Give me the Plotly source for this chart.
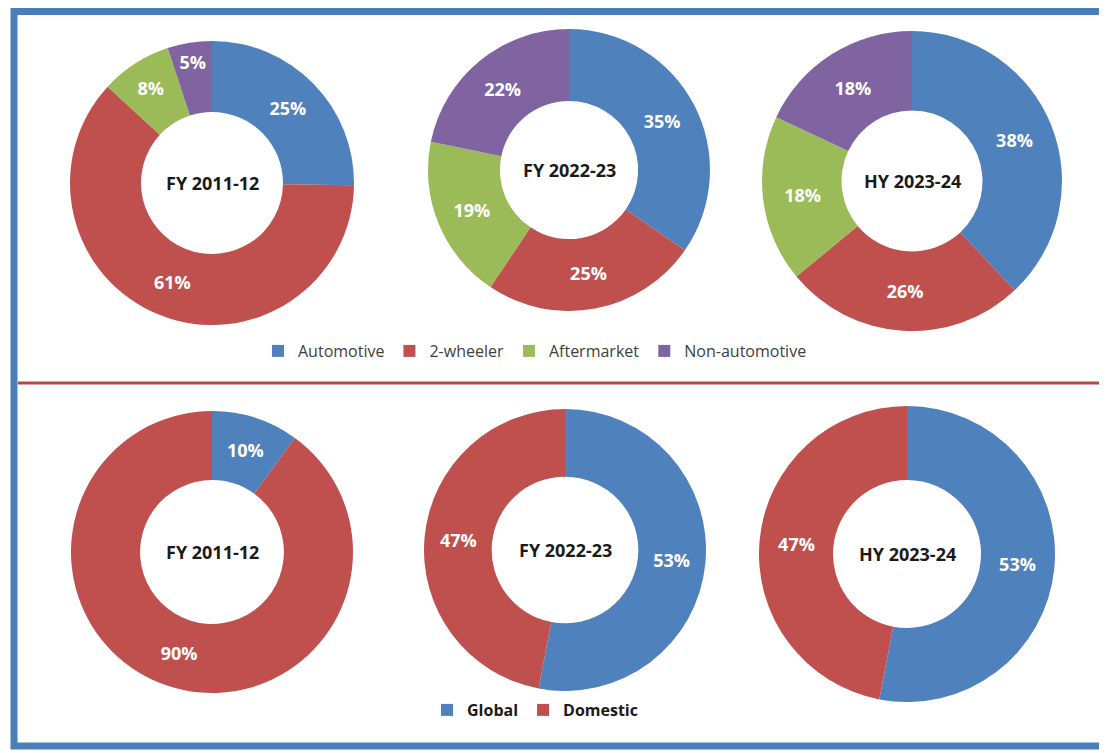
import plotly.graph_objects as go

W, H = 1107, 753
OFF = 8  # page body margin
FW, FH = W + 20, H - OFF

seg_labels = ["Automotive", "2-wheeler", "Aftermarket", "Non-automotive"]
seg_fy12 = [25, 61, 8, 5]
seg_fy23 = [35, 25, 19, 22]
seg_hy24 = [38, 26, 18, 18]

geo_labels = ["Global", "Domestic"]
geo_fy12 = [10, 90]
geo_fy23 = [53, 47]
geo_hy24 = [53, 47]

period_titles = ["FY 2011-12", "FY 2022-23", "HY 2023-24"]

seg_colors = ["#4F81BD", "#C0504D", "#9BBB59", "#8064A2"]
geo_colors = ["#4F81BD", "#C0504D"]

# (cx, cy, r, hole) in page pixels
top_geom = [(212, 183, 142, 0.50), (569, 170, 141, 0.49), (912, 181, 150, 0.47)]
bot_geom = [(212, 552, 141, 0.51), (565, 550, 141, 0.52), (907, 554, 148, 0.50)]


def fx(px):
    return (px - OFF) / FW


def fy(py):
    return 1 - (py - OFF) / FH


def domain(cx, cy, r):
    return dict(x=[fx(cx - r), fx(cx + r)], y=[fy(cy + r), fy(cy - r)])


fig = go.Figure()
annotations = []

label_font = dict(color="white", size=18, family="Open Sans", weight="bold")
center_font = dict(size=18, color="#1a1a1a", family="Open Sans", weight="bold")

for i, vals in enumerate([seg_fy12, seg_fy23, seg_hy24]):
    cx, cy, r, hole = top_geom[i]
    fig.add_trace(go.Pie(
        labels=seg_labels, values=vals, hole=hole, sort=False, direction="clockwise",
        rotation=0, domain=domain(cx, cy, r), marker=dict(colors=seg_colors, line=dict(width=0)),
        texttemplate="%{value}%", textposition="inside", insidetextorientation="horizontal",
        textfont=label_font, showlegend=(i == 0), legend="legend", hoverinfo="label+percent",
    ))
    annotations.append(dict(x=fx(cx), y=fy(cy), xref="paper", yref="paper", xanchor="center", yanchor="middle",
                            text=period_titles[i], showarrow=False, font=center_font))

for i, vals in enumerate([geo_fy12, geo_fy23, geo_hy24]):
    cx, cy, r, hole = bot_geom[i]
    fig.add_trace(go.Pie(
        labels=geo_labels, values=vals, hole=hole, sort=False, direction="clockwise",
        rotation=0, domain=domain(cx, cy, r), marker=dict(colors=geo_colors, line=dict(width=0)),
        texttemplate="%{value}%", textposition="inside", insidetextorientation="horizontal",
        textfont=label_font, showlegend=(i == 0), legend="legend2", hoverinfo="label+percent",
    ))
    annotations.append(dict(x=fx(cx), y=fy(cy), xref="paper", yref="paper", xanchor="center", yanchor="middle",
                            text=period_titles[i], showarrow=False, font=center_font))

shapes = [
    dict(type="rect", xref="paper", yref="paper", x0=fx(14), x1=fx(1300), y0=fy(746), y1=fy(11.5),
         line=dict(color="#4A7EBB", width=7), fillcolor="rgba(0,0,0,0)"),
    dict(type="line", xref="paper", yref="paper", x0=fx(18), x1=fx(1300), y0=fy(383), y1=fy(383),
         line=dict(color="#B9474A", width=3)),
]

fig.update_layout(
    width=FW, height=FH, margin=dict(l=0, r=0, t=0, b=0),
    paper_bgcolor="white", plot_bgcolor="white",
    font=dict(family="Open Sans", color="#333"),
    annotations=annotations, shapes=shapes,
    legend=dict(orientation="h", x=fx(535), xanchor="center", y=fy(351), yanchor="middle",
                font=dict(size=16, color="#404040", family="Open Sans"), itemwidth=30,
                bgcolor="rgba(0,0,0,0)"),
    legend2=dict(orientation="h", x=fx(535), xanchor="center", y=fy(710), yanchor="middle",
                 font=dict(size=16, color="#1a1a1a", family="Open Sans", weight="bold"), itemwidth=30,
                 bgcolor="rgba(0,0,0,0)"),
)

fig.write_html("out.html")
